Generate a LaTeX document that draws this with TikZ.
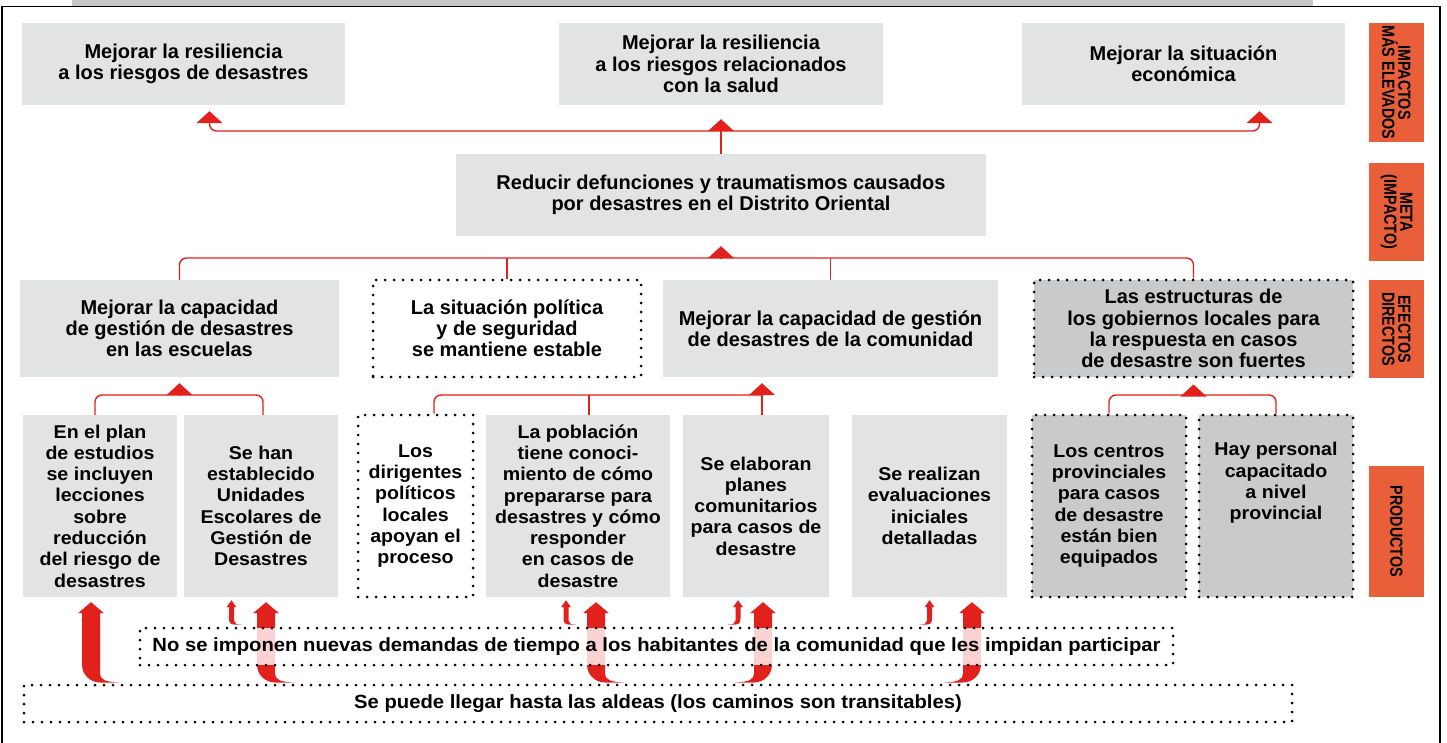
\documentclass[tikz,border=0pt]{standalone}
\usepackage{fontspec}
\setmainfont{Liberation Sans}
\newfontfamily\tagfont{Liberation Sans}[FakeStretch=0.82]
\newfontfamily\prodfont{Liberation Sans}[FakeStretch=1.06]
\usepackage{tikz}
\usetikzlibrary{positioning}
\usetikzlibrary{shapes,calc,arrows.meta}
\definecolor{boxgray}{HTML}{E2E3E3}
\definecolor{darkbox}{HTML}{C9CACC}
\definecolor{arrowred}{HTML}{E2211C}
\definecolor{tagorange}{HTML}{E85F3A}
\definecolor{bargray}{HTML}{C6C7C9}
\tikzset{
	link/.style = {draw=arrowred, line width=1.4pt, rounded corners=7pt},
	tip/.style = {-{Triangle[width=26pt,length=12pt]}},
	gbox/.style = {fill=boxgray, inner sep=0pt, align=center,
		font=\fontsize{20}{21.2}\selectfont\bfseries},
	pfont/.style = {font=\prodfont\fontsize{18.5}{21.3}\selectfont\bfseries},
	afont/.style = {font=\prodfont\fontsize{19.1}{21.3}\selectfont\bfseries},
	pbox/.style = {gbox, pfont, minimum height=182},
	dots/.style = {draw=black, line width=3pt, line cap=round,
		dash pattern=on 0pt off 9pt},
	cond/.style = {dots, fill=white},
	weak/.style = {dots, fill=darkbox},
	tag/.style = {fill=tagorange, rotate=-90, inner sep=0pt, align=center,
		minimum height=55, font=\tagfont\fontsize{17.5}{16}\selectfont\bfseries},
	riser/.style = {fill=arrowred},
}
% thick rising arrow: product, assumption, shift, side of the tail
\newcommand{\bigrise}[4]{%
	\fill[riser] let \p1=($(#1.south)+(#3,0)$), \p2=(#2.north) in
		(\x1,{\y1-5}) -- ({\x1+13*(#4)},{\y1-16}) -- ({\x1+9*(#4)},{\y1-16})
		-- ({\x1+9*(#4)},{\y2+10}) .. controls ({\x1+9*(#4)},{\y2+4}) and ({\x1+14*(#4)},{\y2+1.5}) .. ({\x1+28*(#4)},{\y2+1})
		-- ({\x1+9*(#4)},{\y2+1}) .. controls ({\x1-1*(#4)},{\y2+1}) and ({\x1-9*(#4)},{\y2+9}) .. ({\x1-9*(#4)},{\y2+19})
		-- ({\x1-9*(#4)},{\y1-16}) -- ({\x1-13*(#4)},{\y1-16}) -- cycle;}
% thin rising arrow
\newcommand{\smallrise}[4]{%
	\fill[riser] let \p1=($(#1.south)+(#3,0)$), \p2=(#2.north) in
		(\x1,{\y1-3}) -- ({\x1+5*(#4)},{\y1-10}) -- ({\x1+2.5*(#4)},{\y1-10})
		-- ({\x1+2.5*(#4)},{\y2+6}) .. controls ({\x1+2.5*(#4)},{\y2+3}) and ({\x1+5*(#4)},{\y2+2}) .. ({\x1+10*(#4)},{\y2+2})
		-- ({\x1+2.5*(#4)},{\y2+2}) .. controls ({\x1-1*(#4)},{\y2+2}) and ({\x1-2.5*(#4)},{\y2+4}) .. ({\x1-2.5*(#4)},{\y2+8})
		-- ({\x1-2.5*(#4)},{\y1-10}) -- ({\x1-5*(#4)},{\y1-10}) -- cycle;}

\begin{document}
\begin{tikzpicture}[x=1pt, y=-1pt]
	\useasboundingbox (0,0) rectangle (1447,743);
	\fill[bargray] (72,0) rectangle (1313,6);
	\draw[line width=1.3pt] (2,745) -- (2,6.5) -- (1440,6.5) -- (1440,745);

	\node (imp1) [gbox, minimum width=323, minimum height=82] at (183.5,64) {Mejorar la resiliencia\\a los riesgos de desastres};
	\node (imp2) [gbox, minimum width=324, minimum height=82] at (721,64) {Mejorar la resiliencia\\a los riesgos relacionados\\con la salud};
	\node (imp3) [gbox, minimum width=323, minimum height=82] at (1183.5,64) {Mejorar la situación\\económica};
	\node (goal) [gbox, minimum width=530, minimum height=82] at (721,195) {Reducir defunciones y traumatismos causados\\por desastres en el Distrito Oriental};

	\node (eff1) [gbox, minimum width=319, minimum height=97] at (179.5,328.5) {Mejorar la capacidad\\de gestión de desastres\\en las escuelas};
	\node (eff2) [gbox, cond, minimum width=268, minimum height=97] at (507,328.5) {La situación política\\y de seguridad\\se mantiene estable};
	\node (eff3) [gbox, minimum width=335, minimum height=97] at (830.5,328.5) {Mejorar la capacidad de gestión\\de desastres de la comunidad};
	\node (eff4) [gbox, weak, minimum width=319, minimum height=97] at (1193.5,328.5) {Las estructuras de\\los gobiernos locales para\\la respuesta en casos\\de desastre son fuertes};

	\node (prod1) [pbox, minimum width=154] at (100,506) {En el plan\\de estudios\\se incluyen\\lecciones\\sobre\\reducción\\del riesgo de\\desastres};
	\node (prod2) [pbox, minimum width=154] at (261,506) {Se han\\establecido\\Unidades\\Escolares de\\Gestión de\\Desastres};
	\node (prod3) [pbox, cond, minimum width=115] at (415.5,506) {Los\\dirigentes\\políticos\\locales\\apoyan el\\proceso};
	\node (prod4) [pbox, minimum width=184] at (578,506) {La población\\tiene conoci-\\miento de cómo\\prepararse para\\desastres y cómo\\responder\\en casos de\\desastre};
	\node (prod5) [pbox, minimum width=146] at (756,506) {Se elaboran\\planes\\comunitarios\\para casos de\\desastre};
	\node (prod6) [pbox, minimum width=155] at (929.5,506) {Se realizan\\evaluaciones\\iniciales\\detalladas};
	\node (prod7) [pbox, weak, minimum width=154] at (1109,506) {Los centros\\provinciales\\para casos\\de desastre\\están bien\\equipados};
	\node (prod8) [pbox, weak, minimum width=154, text depth=50pt] at (1276,506) {Hay personal\\capacitado\\a nivel\\provincial};

	\node (lvl1) [tag, minimum width=119] at (1396.5,82.5) {IMPACTOS\\MÁS ELEVADOS};
	\node (lvl2) [tag, minimum width=98] at (1396.5,212) {META\\(IMPACTO)};
	\node (lvl3) [tag, minimum width=98] at (1396.5,329) {EFECTOS\\DIRECTOS};
	\node (lvl4) [tag, minimum width=131] at (1396.5,531.5) {PRODUCTOS};

	% goal -> higher impacts
	\coordinate (upfork) at (721,131);
	\path[link] (goal.north) -- (upfork);
	\path[link, tip, shorten >=14pt] (upfork) -- (imp2.south);
	\path[link, tip, shorten >=6pt] (upfork) -| ([xshift=26]imp1.south);
	\path[link, tip, shorten >=6pt] (upfork) -| ([xshift=76]imp3.south);

	% direct effects -> goal
	\coordinate (effork) at (721,258);
	\path[link, tip, shorten >=10pt] (effork) -- (goal.south);
	\path[link] (eff1.north) |- (effork) -| (eff4.north);
	\path[link] (eff2.north) -- (eff2.north |- effork);
	\path[link] (eff3.north) -- (eff3.north |- effork);

	% products -> direct effects
	\coordinate (sfork) at (179.5,395);
	\path[link, tip, shorten >=6pt] (sfork) -- (eff1.south);
	\path[link] ([xshift=-5]prod1.north) |- (sfork) -| ([xshift=2]prod2.north);
	\coordinate (cfork) at (762,395);
	\path[link, tip, shorten >=6pt] ([xshift=6]prod5.north) -- (cfork) -- (cfork |- eff3.south);
	\path[link] ([xshift=18.5]prod3.north) |- (cfork);
	\path[link] ([xshift=11]prod4.north) -- ([xshift=11]prod4.north |- cfork);
	\coordinate (gfork) at (1193.5,395);
	\path[link, tip, shorten >=6pt] (gfork) -- (eff4.south);
	\path[link] (prod7.north) |- (gfork) -| (prod8.north);

	% assumptions
	\node (hold2) [cond, afont, inner sep=0pt, minimum width=1268, minimum height=37] at (658,703.5) {Se puede llegar hasta las aldeas (los caminos son transitables)};
	\bigrise{prod1}{hold2}{-9}{1}
	\bigrise{prod2}{hold2}{5}{1}
	\bigrise{prod4}{hold2}{18}{1}
	\bigrise{prod5}{hold2}{7}{-1}
	\bigrise{prod6}{hold2}{42.5}{-1}
	\node (hold1) [cond, afont, inner sep=0pt, fill opacity=0.8, text opacity=1, minimum width=1033, minimum height=37] at (656.5,646.5) {No se imponen nuevas demandas de tiempo a los habitantes de la comunidad que les impidan participar};
	\smallrise{prod2}{hold1}{-29.5}{1}
	\smallrise{prod4}{hold1}{-12}{1}
	\smallrise{prod5}{hold1}{-18}{-1}
	\smallrise{prod6}{hold1}{0}{-1}
\end{tikzpicture}
\end{document}
